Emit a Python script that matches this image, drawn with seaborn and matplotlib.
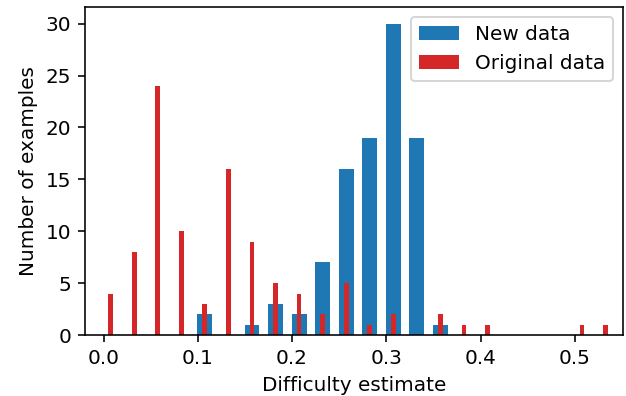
import numpy as np
import pandas as pd
import matplotlib
matplotlib.use("Agg")
import matplotlib.pyplot as plt
import seaborn as sns
from matplotlib.patches import Patch

# Data (bin centres and counts)
orig_x = [0.0075, 0.0325, 0.0575, 0.0825, 0.1075, 0.1325, 0.1575, 0.1825, 0.2075,
          0.2325, 0.2575, 0.2825, 0.3075, 0.3575, 0.3825, 0.4075, 0.5075, 0.5325]
orig_n = [4, 8, 24, 10, 3, 16, 9, 5, 4, 2, 5, 1, 2, 2, 1, 1, 1, 1]
new_x = [0.1075, 0.1575, 0.1825, 0.2075, 0.2325, 0.2575, 0.2825, 0.3075, 0.3325, 0.3575]
new_n = [2, 1, 3, 2, 7, 16, 19, 30, 19, 1]
labels = ["New data", "Original data"]

BLUE = "#1f77b4"
RED = "#d62728"

df_new = pd.DataFrame({"x": new_x, "n": new_n})
df_orig = pd.DataFrame({"x": orig_x, "n": orig_n})

dpi = 144
fig, ax = plt.subplots(figsize=(626 / dpi, 396 / dpi), dpi=dpi)
fig.subplots_adjust(left=0.136, right=0.995, bottom=0.154, top=0.982)

sns.histplot(data=df_new, x="x", weights="n", binwidth=0.025, binrange=(-0.005, 0.545),
             shrink=0.63, color=BLUE, alpha=1, linewidth=0, ax=ax)
sns.histplot(data=df_orig, x="x", weights="n", binwidth=0.025, binrange=(-0.005, 0.545),
             shrink=0.2, color=RED, alpha=1, linewidth=0, ax=ax)

ax.set_xlim(-0.0195, 0.551)
ax.set_ylim(0, 31.6)
ax.set_xlabel("Difficulty estimate")
ax.set_ylabel("Number of examples")
ax.set_xticks([0.0, 0.1, 0.2, 0.3, 0.4, 0.5])
ax.set_yticks([0, 5, 10, 15, 20, 25, 30])

handles = [Patch(facecolor=BLUE), Patch(facecolor=RED)]
ax.legend(handles, labels, loc="upper right")

fig.savefig("out.png", dpi=dpi)
